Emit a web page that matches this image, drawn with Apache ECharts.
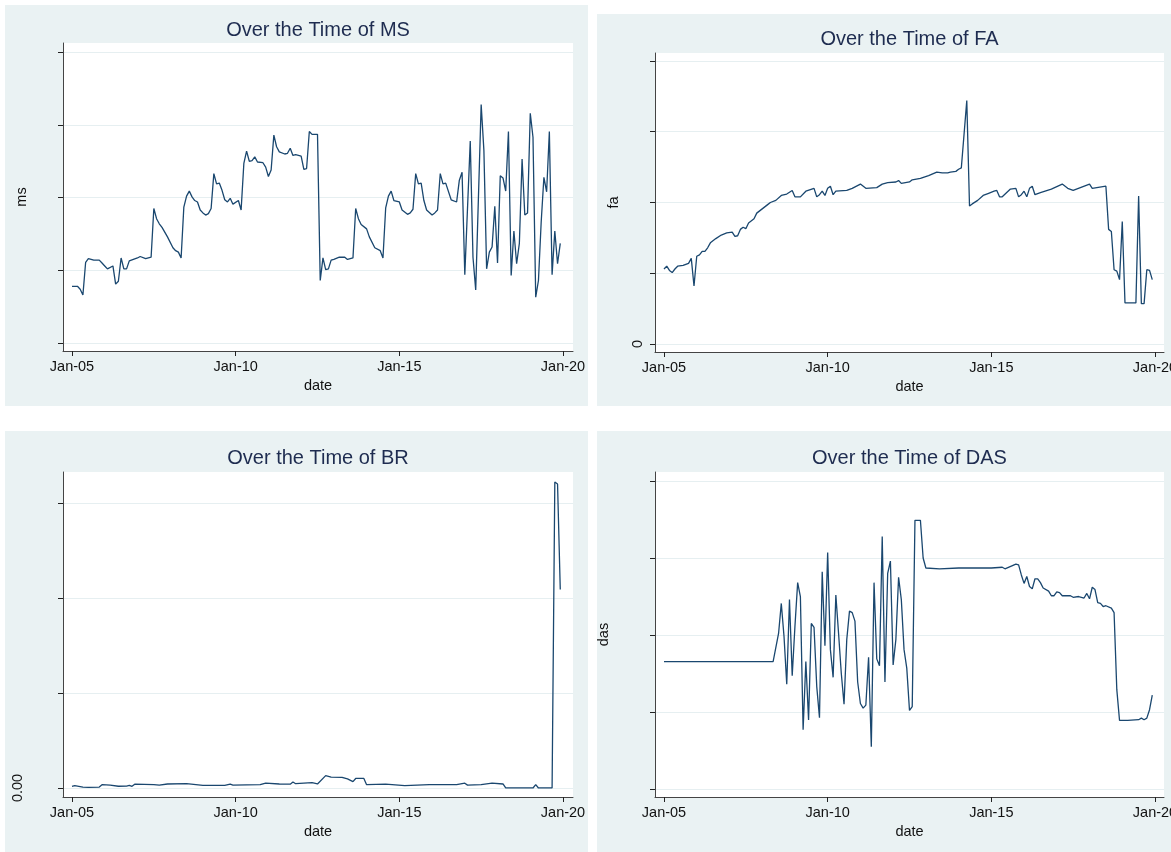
<!DOCTYPE html>
<html>
<head>
<meta charset="utf-8">
<title>Over the Time</title>
<script src="https://cdn.jsdelivr.net/npm/echarts@6/dist/echarts.min.js"></script>
<style>
html, body { margin: 0; padding: 0; background: #fff; overflow: hidden; width: 1171px; height: 852px; }
.panel { position: absolute; background: #eaf2f3; }
#ms  { left: 5px;   top: 5px;   width: 583px; height: 401px; }
#fa  { left: 597px; top: 14px;  width: 583px; height: 392px; }
#br  { left: 5px;   top: 431px; width: 583px; height: 421px; }
#das { left: 597px; top: 431px; width: 583px; height: 421px; }
</style>
</head>
<body>
<div id="ms" class="panel"></div>
<div id="fa" class="panel"></div>
<div id="br" class="panel"></div>
<div id="das" class="panel"></div>
<script>
// monthly values (y units = gridline steps, the axes carry no scale)
const msData = [
  ['2005-01',0.78],['2005-03',0.78],['2005-04',0.74],['2005-05',0.66],['2005-06',1.11],['2005-07',1.16],['2005-09',1.14],['2005-11',1.14],['2005-12',1.10],
  ['2006-01',1.06],['2006-02',1.02],['2006-04',1.06],['2006-05',0.81],['2006-06',0.85],['2006-07',1.17],['2006-08',1.02],['2006-09',1.02],['2006-10',1.13],
  ['2007-01',1.17],['2007-02',1.19],['2007-04',1.16],['2007-06',1.18],['2007-07',1.85],['2007-08',1.71],['2007-09',1.64],['2007-10',1.59],['2007-12',1.46],
  ['2008-02',1.31],['2008-03',1.27],['2008-04',1.25],['2008-05',1.17],['2008-06',1.87],['2008-07',2.02],['2008-08',2.09],['2008-09',2.01],['2008-10',1.96],['2008-11',1.94],['2008-12',1.83],
  ['2009-01',1.79],['2009-02',1.76],['2009-03',1.78],['2009-04',1.85],['2009-05',2.33],['2009-06',2.19],['2009-07',2.20],['2009-08',2.10],['2009-09',1.97],['2009-10',1.94],['2009-11',1.99],['2009-12',1.91],
  ['2010-02',1.96],['2010-03',1.83],['2010-04',2.47],['2010-05',2.64],['2010-06',2.50],['2010-07',2.51],['2010-08',2.56],['2010-09',2.49],['2010-11',2.48],['2010-12',2.42],
  ['2011-01',2.29],['2011-02',2.38],['2011-03',2.86],['2011-04',2.70],['2011-05',2.63],['2011-07',2.60],['2011-08',2.61],['2011-09',2.68],['2011-10',2.58],['2011-11',2.59],
  ['2012-01',2.57],['2012-02',2.39],['2012-03',2.40],['2012-04',2.91],['2012-05',2.87],['2012-07',2.87],['2012-08',0.86],['2012-09',1.17],['2012-10',1.01],['2012-11',1.02],['2012-12',1.14],
  ['2013-01',1.15],['2013-03',1.18],['2013-05',1.18],['2013-06',1.15],['2013-08',1.17],['2013-09',1.85],['2013-10',1.71],['2013-11',1.63],
  ['2014-01',1.57],['2014-02',1.46],['2014-04',1.31],['2014-06',1.27],['2014-07',1.17],['2014-08',1.86],['2014-09',2.02],['2014-10',2.09],['2014-11',1.96],
  ['2015-01',1.94],['2015-02',1.83],['2015-04',1.77],['2015-05',1.79],['2015-06',1.84],['2015-07',2.33],['2015-08',2.19],['2015-09',2.20],['2015-10',1.96],['2015-11',1.83],
  ['2016-01',1.76],['2016-02',1.79],['2016-03',1.83],['2016-04',2.33],['2016-05',2.19],['2016-06',2.20],['2016-08',1.97],['2016-10',1.94],['2016-11',2.24],['2016-12',2.35],
  ['2017-01',0.94],['2017-03',2.78],['2017-04',1.18],['2017-05',0.73],['2017-07',3.28],['2017-08',2.65],['2017-09',1.02],['2017-10',1.25],['2017-11',1.32],['2017-12',1.88],
  ['2018-01',1.10],['2018-02',2.30],['2018-03',2.27],['2018-04',2.09],['2018-05',2.91],['2018-06',0.93],['2018-07',1.54],['2018-08',1.09],['2018-09',1.37],['2018-10',2.53],['2018-11',1.76],['2018-12',1.79],
  ['2019-01',3.16],['2019-02',2.83],['2019-03',0.63],['2019-04',0.86],['2019-05',1.66],['2019-06',2.28],['2019-07',2.08],['2019-08',2.91],['2019-09',0.94],['2019-10',1.54],['2019-11',1.09],['2019-12',1.37]
]

const faData = [
  ['2005-01',1.06],['2005-02',1.10],['2005-03',1.04],['2005-04',1.01],['2005-05',1.06],['2005-06',1.10],['2005-08',1.11],['2005-10',1.14],['2005-11',1.21],['2005-12',0.82],
  ['2006-01',1.24],['2006-02',1.26],['2006-03',1.31],['2006-04',1.31],['2006-05',1.36],['2006-06',1.43],['2006-08',1.49],['2006-10',1.54],['2006-12',1.57],
  ['2007-02',1.58],['2007-03',1.52],['2007-04',1.53],['2007-05',1.62],['2007-06',1.65],['2007-07',1.63],['2007-08',1.71],['2007-10',1.77],['2007-11',1.85],
  ['2008-01',1.91],['2008-03',1.97],['2008-04',2.00],['2008-06',2.03],['2008-08',2.10],['2008-10',2.12],['2008-12',2.17],
  ['2009-01',2.08],['2009-03',2.08],['2009-05',2.16],['2009-08',2.20],['2009-09',2.08],['2009-10',2.11],['2009-11',2.16],['2009-12',2.10],
  ['2010-01',2.20],['2010-02',2.23],['2010-03',2.11],['2010-04',2.16],['2010-08',2.17],['2010-10',2.20],
  ['2011-01',2.26],['2011-03',2.20],['2011-07',2.21],['2011-09',2.26],['2011-11',2.28],
  ['2012-02',2.29],['2012-03',2.31],['2012-04',2.27],['2012-07',2.29],['2012-08',2.32],['2012-11',2.34],
  ['2013-02',2.38],['2013-05',2.43],['2013-07',2.42],['2013-09',2.42],['2013-10',2.43],['2013-12',2.44],
  ['2014-01',2.47],['2014-02',2.49],['2014-04',3.44],['2014-05',1.95],['2014-06',1.98],['2014-08',2.03],['2014-10',2.10],['2014-12',2.13],
  ['2015-02',2.16],['2015-03',2.17],['2015-04',2.08],['2015-05',2.08],['2015-08',2.19],['2015-10',2.20],['2015-11',2.08],['2015-12',2.11],
  ['2016-01',2.16],['2016-02',2.08],['2016-03',2.20],['2016-04',2.23],['2016-05',2.11],['2016-07',2.14],['2016-11',2.19],
  ['2017-03',2.26],['2017-05',2.20],['2017-07',2.17],
  ['2018-01',2.26],['2018-02',2.20],['2018-07',2.23],['2018-08',1.62],['2018-09',1.59],['2018-10',1.05],['2018-11',1.03],['2018-12',0.91],
  ['2019-01',1.73],['2019-02',0.58],['2019-06',0.58],['2019-07',2.09],['2019-08',0.57],['2019-09',0.57],['2019-10',1.05],['2019-11',1.04],['2019-12',0.91]
]

const brData = [
  ['2005-01',0.018],['2005-02',0.025],['2005-05',0.01],['2005-07',0.007],['2005-11',0.01],['2005-12',0.035],
  ['2006-03',0.03],['2006-06',0.018],['2006-09',0.02],['2006-10',0.028],['2006-11',0.018],['2006-12',0.04],
  ['2007-07',0.035],['2007-09',0.03],['2007-12',0.042],['2008-07',0.045],
  ['2009-01',0.028],['2009-09',0.028],['2009-11',0.04],['2009-12',0.03],
  ['2010-10',0.035],['2010-12',0.05],['2011-05',0.042],['2011-09',0.04],['2011-10',0.063],['2011-11',0.045],
  ['2012-05',0.056],['2012-07',0.042],['2012-10',0.13],['2012-12',0.115],
  ['2013-04',0.112],['2013-06',0.095],['2013-08',0.066],['2013-09',0.10],['2013-12',0.10],
  ['2014-01',0.035],['2014-08',0.04],['2015-03',0.025],['2015-12',0.035],['2016-10',0.035],
  ['2017-01',0.05],['2017-02',0.03],['2017-07',0.035],['2017-11',0.05],
  ['2018-03',0.042],['2018-04',0],['2019-02',0],['2019-03',0.035],['2019-04',0],['2019-09',0],
  ['2019-10',3.22],['2019-11',3.20],['2019-12',2.09]
]

const dasData = [
  ['2005-01',1.655],['2008-05',1.655],['2008-07',2.02],['2008-08',2.41],['2008-09',1.98],['2008-10',1.36],['2008-11',2.46],['2008-12',1.47],
  ['2009-01',2.11],['2009-02',2.68],['2009-03',2.50],['2009-04',0.77],['2009-05',1.655],['2009-06',0.895],['2009-07',2.15],['2009-08',2.10],['2009-09',1.33],['2009-10',0.925],['2009-11',2.82],['2009-12',1.86],
  ['2010-01',3.07],['2010-02',1.81],['2010-03',1.45],['2010-04',2.52],['2010-05',2.02],['2010-06',1.50],['2010-07',1.10],['2010-08',1.94],['2010-09',2.31],['2010-10',2.29],['2010-11',2.18],['2010-12',1.39],
  ['2011-01',1.11],['2011-02',1.05],['2011-03',1.09],['2011-04',1.71],['2011-05',0.55],['2011-06',2.68],['2011-07',1.69],['2011-08',1.60],['2011-09',3.28],['2011-10',1.39],['2011-11',2.80],['2011-12',2.96],
  ['2012-01',1.61],['2012-02',1.94],['2012-03',2.75],['2012-04',2.46],['2012-05',1.81],['2012-06',1.57],['2012-07',1.02],['2012-08',1.07],['2012-09',3.49],['2012-11',3.49],['2012-12',3.00],
  ['2013-01',2.87],['2013-06',2.86],['2014-01',2.87],['2015-01',2.87],['2015-05',2.88],['2015-06',2.86],['2015-10',2.92],['2015-11',2.91],['2015-12',2.78],
  ['2016-01',2.67],['2016-02',2.76],['2016-03',2.63],['2016-04',2.60],['2016-05',2.73],['2016-06',2.73],['2016-07',2.68],['2016-08',2.61],['2016-10',2.57],['2016-11',2.51],['2016-12',2.51],
  ['2017-01',2.56],['2017-02',2.55],['2017-03',2.51],['2017-06',2.51],['2017-07',2.49],['2017-09',2.50],['2017-11',2.48],['2017-12',2.54],
  ['2018-01',2.47],['2018-02',2.62],['2018-03',2.59],['2018-04',2.42],['2018-05',2.41],['2018-06',2.37],['2018-07',2.38],['2018-09',2.35],['2018-10',2.29],['2018-11',1.29],['2018-12',0.89],
  ['2019-03',0.89],['2019-07',0.90],['2019-08',0.92],['2019-09',0.90],['2019-10',0.92],['2019-11',1.03],['2019-12',1.22]
]

const tickYears = [2005, 2010, 2015, 2020]

const FONT = '"Liberation Sans", Arial, sans-serif'
const NAVY = '#1a476f'
const TICK_SPAN_PX = 491   // Jan-05 .. Jan-20 distance on screen
const X_PAD = 9            // gap between y axis and Jan-05
const yearSpan = tickYears[tickYears.length - 1] - tickYears[0]

// 'YYYY-MM' -> year as a decimal number for the value axis
const toYear = s => {
  const [y, m] = s.split('-').map(Number)
  return y + (m - 1) / 12
}

const panels = [
  { id: 'ms',  title: 'Over the Time of MS',  name: 'ms',  data: msData,
    grid: { left: 58, top: 38, width: 510, height: 308 }, titleTop: 15,
    yMin: -0.11, yMax: 4.127, yTicks: [0, 1, 2, 3, 4], yLabel: null, nameGap: 34 },
  { id: 'fa',  title: 'Over the Time of FA',  name: 'fa',  data: faData,
    grid: { left: 58, top: 39, width: 509, height: 299 }, titleTop: 15,
    yMin: -0.113, yMax: 4.113, yTicks: [0, 1, 2, 3, 4], yLabel: { at: 0, text: '0', margin: 10 }, nameGap: 34 },
  { id: 'br',  title: 'Over the Time of BR',  name: 'br',  data: brData,
    grid: { left: 58, top: 41, width: 510, height: 325 }, titleTop: 17,
    yMin: -0.095, yMax: 3.326, yTicks: [0, 1, 2, 3], yLabel: { at: 0, text: '0.00', margin: 38 }, nameGap: 35 },
  { id: 'das', title: 'Over the Time of DAS', name: 'das', data: dasData,
    grid: { left: 58, top: 41, width: 509, height: 325 }, titleTop: 17,
    yMin: -0.104, yMax: 4.117, yTicks: [0, 1, 2, 3, 4], yLabel: null, nameGap: 44 }
]

function buildOption(p) {
  const g = p.grid
  const xMin = tickYears[0] - X_PAD / TICK_SPAN_PX * yearSpan
  const xMax = tickYears[tickYears.length - 1] + (g.width - X_PAD - TICK_SPAN_PX) / TICK_SPAN_PX * yearSpan
  return {
    animation: false,
    backgroundColor: 'transparent',
    textStyle: { fontFamily: FONT },
    title: {
      text: p.title,
      left: g.left + g.width / 2,
      top: p.titleTop,
      textAlign: 'center',
      padding: 0,
      textStyle: { fontFamily: FONT, fontSize: 20, fontWeight: 'normal', color: '#1e2c50' }
    },
    grid: {
      left: g.left, top: g.top, width: g.width, height: g.height,
      outerBoundsMode: 'none',
      containLabel: false,
      show: true, backgroundColor: '#fff', borderWidth: 0
    },
    xAxis: {
      type: 'value',
      min: xMin,
      max: xMax,
      name: 'date',
      nameLocation: 'middle',
      nameGap: 20,
      nameTextStyle: { fontFamily: FONT, fontSize: 14.5, color: '#111' },
      axisLine: { show: true, onZero: false, lineStyle: { color: '#444', width: 1 } },
      axisTick: { show: true, customValues: tickYears, length: 5, lineStyle: { color: '#222', width: 1 } },
      axisLabel: {
        customValues: tickYears,
        formatter: v => 'Jan-' + String(Math.round(v)).slice(2),
        fontFamily: FONT, fontSize: 14.5, color: '#111', margin: 8
      },
      splitLine: { show: false }
    },
    yAxis: {
      type: 'value',
      min: p.yMin,
      max: p.yMax,
      name: p.name,
      nameLocation: 'middle',
      nameGap: p.nameGap,
      nameTextStyle: { fontFamily: FONT, fontSize: 14.5, color: '#111' },
      axisLine: { show: true, onZero: false, lineStyle: { color: '#444', width: 1 } },
      axisTick: { show: true, customValues: p.yTicks, length: 5, lineStyle: { color: '#222', width: 1 } },
      axisLabel: p.yLabel ? {
        show: true,
        customValues: [p.yLabel.at],
        formatter: () => p.yLabel.text,
        rotate: 90,
        margin: p.yLabel.margin,
        fontFamily: FONT, fontSize: 14.5, color: '#111'
      } : { show: false },
      splitLine: { show: true, lineStyle: { color: '#e6eff1', width: 1 } }
    },
    series: [{
      type: 'line',
      data: p.data.map(d => [toYear(d[0]), d[1]]),
      symbol: 'none',
      showSymbol: false,
      lineStyle: { color: NAVY, width: 1.3 },
      itemStyle: { color: NAVY }
    }]
  }
}

panels.forEach(p => {
  const chart = echarts.init(document.getElementById(p.id))
  chart.setOption(buildOption(p))
})
</script>
</body>
</html>
